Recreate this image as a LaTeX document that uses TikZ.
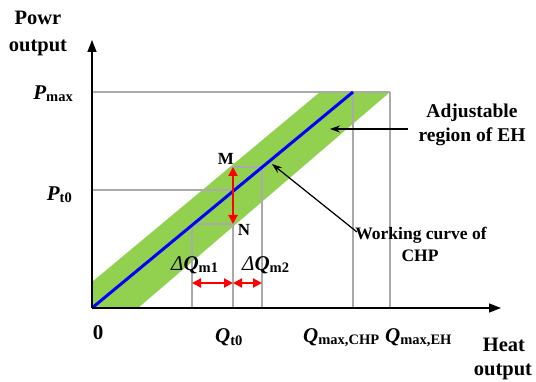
\documentclass[tikz,border=0pt]{standalone}
\usepackage{fontspec}
\setmainfont{Liberation Serif}
\usetikzlibrary{arrows.meta}
\definecolor{bandgreen}{RGB}{146,208,80}
\definecolor{guidegray}{RGB}{170,170,170}
\definecolor{curveblue}{RGB}{0,0,255}
\definecolor{markred}{RGB}{255,0,0}
\newcommand{\symsub}[3][14.5]{{\bfseries\itshape #2}{\fontsize{#1}{#1}\selectfont\bfseries\raisebox{-2pt}{#3}}}
\begin{document}
\begin{tikzpicture}[x=1pt,y=-1pt,
  axisline/.style={line width=1.4pt,black,-{Triangle[length=12pt,width=9pt]}},
  guide/.style={line width=1.3pt,guidegray},
  redarrow/.style={line width=2pt,markred,{Triangle[length=9pt,width=9pt]}-{Triangle[length=9pt,width=9pt]}},
  pointer/.style={line width=1.2pt,black,-{Stealth[length=10pt,width=7pt]}},
  axlabel/.style={font=\fontsize{20.5}{20.5}\selectfont\bfseries,anchor=base,inner sep=0pt},
  ticklabel/.style={font=\fontsize{21}{21}\selectfont,inner sep=0pt},
  notelabel/.style={font=\fontsize{19.5}{19.5}\selectfont\bfseries,anchor=base,inner sep=0pt},
  curvelabel/.style={font=\fontsize{17.5}{17.5}\selectfont\bfseries,anchor=base,inner sep=0pt},
  ptlabel/.style={font=\fontsize{17}{17}\selectfont\bfseries,anchor=base,inner sep=0pt}]
\useasboundingbox (0,0) rectangle (536,382);
% key points
\coordinate (O) at (92,308);
\coordinate (Ytip) at (92,40);
\coordinate (Xtip) at (501,308);
\coordinate (Pmax) at (92,92);
\coordinate (PmaxEH) at (390,92);
\coordinate (Bend) at (353,92);
\coordinate (CHPfoot) at (353,308);
\coordinate (EHfoot) at (390,308);
\coordinate (Pt0) at (92,190);
\coordinate (M) at (233,167);
\coordinate (N) at (233,224);
\coordinate (Mr) at (262,167);
\coordinate (Nl) at (192,224);
\coordinate (Qt0foot) at (233,308);
\coordinate (Q1foot) at (192,308);
\coordinate (Q2foot) at (262,308);
\coordinate (H1) at (192,283);
\coordinate (H2) at (233,283);
\coordinate (H3) at (262,283);
% green band
\fill[bandgreen] (92,308) -- (92,282) -- (320,92) -- (390,92) -- (138,308) -- cycle;
% guides
\draw[guide] (Pmax) -- (PmaxEH);
\draw[guide] (Bend) -- (CHPfoot);
\draw[guide] (PmaxEH) -- (EHfoot);
\draw[guide] (Pt0) -- (233,190);
\draw[guide] (M) -- (Mr) -- (Q2foot);
\draw[guide] (Nl) -- (N);
\draw[guide] (Nl) -- (Q1foot);
\draw[guide] (M) -- (Qt0foot);
% working curve
\draw[line width=3pt,curveblue] (O) -- (Bend);
% axes
\draw[axisline] (O) -- (Ytip);
\draw[axisline] (O) -- (Xtip);
% red arrows
\draw[redarrow] (N) -- (M);
\draw[redarrow] (H1) -- (H2);
\draw[redarrow] (H2) -- (H3);
% labels
\node[axlabel] (powr) at (38,25) {Powr};
\node[axlabel] (pout) at (38,52) {output};
\node[axlabel] (heat) at (504,352) {Heat};
\node[axlabel] (hout) at (503,375) {output};
\node[ticklabel,anchor=base east] (lPmax) at (73,100) {\symsub{P}{max}};
\node[ticklabel,anchor=base east] (lPt0) at (72,201) {\symsub{P}{t0}};
\node[ticklabel,anchor=base,font=\fontsize{21}{21}\selectfont\bfseries] (lzero) at (98,340) {0};
\node[ticklabel,anchor=base west] (lQt0) at (215,343) {\symsub{Q}{t0}};
\node[ticklabel,anchor=base west] (lQchp) at (303,342) {\symsub{Q}{max,CHP}};
\node[ticklabel,anchor=base west] (lQeh) at (385,342) {\symsub{Q}{max,EH}};
\node[ticklabel,anchor=base west] (ldq1) at (171,271) {{\itshape Δ}\symsub{Q}{m1}};
\node[ticklabel,anchor=base west] (ldq2) at (242,271) {{\itshape Δ}\symsub{Q}{m2}};
\node[ptlabel] (lM) at (226,165) {M};
\node[ptlabel] (lN) at (244,236) {N};
\node[notelabel] (adj1) at (472,118) {Adjustable};
\node[notelabel] (adj2) at (472,142) {region of EH};
\node[curvelabel] (wc1) at (421,240) {Working curve of};
\node[curvelabel] (wc2) at (420,262) {CHP};
\coordinate (adjstart) at (408,129);
\coordinate (adjtip) at (330,129);
\coordinate (wcstart) at (357,232);
\coordinate (wctip) at (272,164);
\draw[pointer] (adjstart) -- (adjtip);
\draw[pointer] (wcstart) -- (wctip);
\end{tikzpicture}
\end{document}
